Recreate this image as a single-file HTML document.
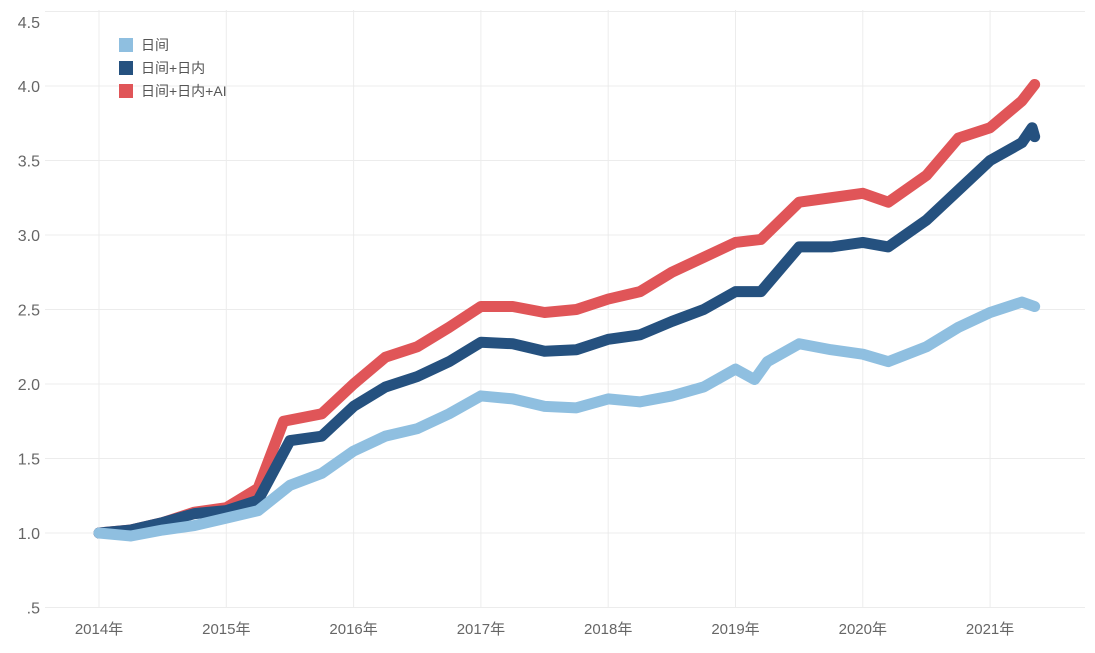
<!DOCTYPE html>
<html><head><meta charset="utf-8"><style>
body{margin:0;background:#fff;}
svg text{font-family:"Liberation Sans","Noto Sans CJK SC",sans-serif;}
</style></head><body>
<svg id="chart" width="1095" height="648" xmlns="http://www.w3.org/2000/svg">
<g id="grid"></g>
<g id="axes"></g>
<g id="lines"></g>
<g>
<rect x="119" y="38" width="14" height="14" fill="#8fbfe0"/>
<text x="141" y="50" font-size="14" fill="#555">日间</text>
<rect x="119" y="61" width="14" height="14" fill="#25517f"/>
<text x="141" y="73" font-size="14" fill="#555">日间+日内</text>
<rect x="119" y="84" width="14" height="14" fill="#e05558"/>
<text x="141" y="96" font-size="14" fill="#555">日间+日内+AI</text>
</g>
</svg>
<script>
const yTicks=[0.5,1.0,1.5,2.0,2.5,3.0,3.5,4.0,4.5];
const yTickLabels=[".5","1.0","1.5","2.0","2.5","3.0","3.5","4.0","4.5"];
const xYears=[2014,2015,2016,2017,2018,2019,2020,2021];
const xTickLabels=["2014年","2015年","2016年","2017年","2018年","2019年","2020年","2021年"];
const tDaily=[2014,2014.25,2014.5,2014.75,2015,2015.25,2015.5,2015.75,2016,2016.25,2016.5,2016.75,2017,2017.25,2017.5,2017.75,2018,2018.25,2018.5,2018.75,2019,2019.15,2019.25,2019.5,2019.75,2020,2020.2,2020.5,2020.75,2021,2021.25,2021.35];
const vDaily=[1.0,0.98,1.02,1.05,1.10,1.15,1.32,1.40,1.55,1.65,1.70,1.80,1.92,1.90,1.85,1.84,1.90,1.88,1.92,1.98,2.10,2.03,2.15,2.27,2.23,2.20,2.15,2.25,2.38,2.48,2.55,2.52];
const tIntra=[2014,2014.25,2014.5,2014.75,2015,2015.25,2015.5,2015.75,2016,2016.25,2016.5,2016.75,2017,2017.25,2017.5,2017.75,2018,2018.25,2018.5,2018.75,2019,2019.2,2019.5,2019.75,2020,2020.2,2020.5,2020.75,2021,2021.25,2021.33,2021.35];
const vIntra=[1.0,1.02,1.07,1.13,1.15,1.22,1.62,1.65,1.85,1.98,2.05,2.15,2.28,2.27,2.22,2.23,2.30,2.33,2.42,2.50,2.62,2.62,2.92,2.92,2.95,2.92,3.10,3.30,3.50,3.62,3.72,3.66];
const tAI=[2014,2014.25,2014.5,2014.75,2015,2015.25,2015.45,2015.75,2016,2016.25,2016.5,2016.75,2017,2017.25,2017.5,2017.75,2018,2018.25,2018.5,2018.75,2019,2019.2,2019.5,2019.75,2020,2020.2,2020.5,2020.75,2021,2021.25,2021.35];
const vAI=[1.0,1.02,1.07,1.14,1.17,1.30,1.75,1.80,2.0,2.18,2.25,2.38,2.52,2.52,2.48,2.50,2.57,2.62,2.75,2.85,2.95,2.97,3.22,3.25,3.28,3.22,3.40,3.65,3.72,3.90,4.01];
const NS="http://www.w3.org/2000/svg";
function xs(t){return 99+(t-2014)*127.3;}
function ys(v){return 533-(v-1)*149;}
function mk(tag,attrs,parent){const e=document.createElementNS(NS,tag);for(const k in attrs)e.setAttribute(k,attrs[k]);parent.appendChild(e);return e;}
const grid=document.getElementById('grid'),axes=document.getElementById('axes'),lines=document.getElementById('lines');
yTicks.forEach((v,i)=>{
  const l=mk('line',{x1:45,x2:1085,y1:ys(v),y2:ys(v),stroke:'#ececec','stroke-width':1},grid);
  
  
  const ty=Math.max(ys(v)+6,28);
  const t=mk('text',{x:40,y:ty,'text-anchor':'end','font-size':16,fill:'#666'},axes);
  t.textContent=yTickLabels[i];
  
  
});
xYears.forEach((y,i)=>{
  const l=mk('line',{x1:xs(y),x2:xs(y),y1:10,y2:608,stroke:'#ececec','stroke-width':1},grid);
  
  
  const t=mk('text',{x:xs(y),y:634,'text-anchor':'middle','font-size':15,fill:'#666'},axes);
  t.textContent=xTickLabels[i];
  
  
});
function series(ts,vs,color,name){
  const p=mk('polyline',{points:ts.map((t,i)=>xs(t)+','+ys(vs[i])).join(' '),fill:'none',stroke:color,'stroke-width':11,'stroke-linejoin':'round','stroke-linecap':'round'},lines);
  
  
}
series(tAI,vAI,'#e05558','series-daily-intraday-ai');
series(tIntra,vIntra,'#25517f','series-daily-intraday');
series(tDaily,vDaily,'#8fbfe0','series-daily');
</script>
</body></html>
